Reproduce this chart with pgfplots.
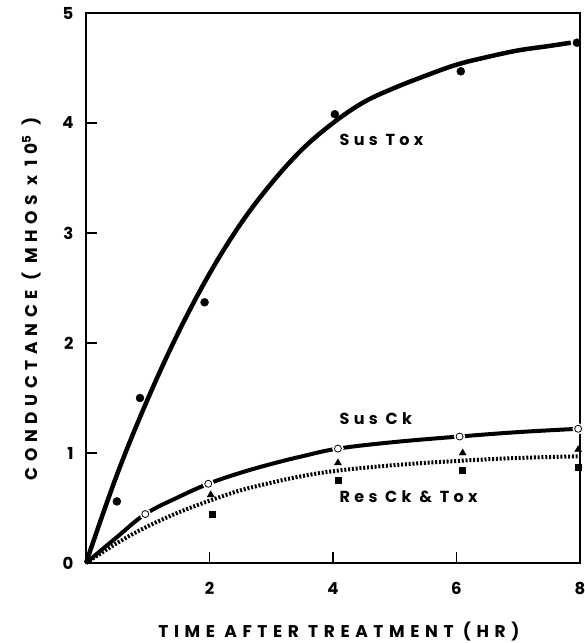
\documentclass[border=0pt]{standalone}
\usepackage{fontspec}
\setmainfont{Poppins}
\newfontfamily\spaced[LetterSpace=33]{Poppins}
\newfontfamily\lspaced[LetterSpace=27]{Poppins}
\usepackage{pgfplots}
\pgfplotsset{compat=1.18}
\begin{document}
\begin{tikzpicture}
\useasboundingbox (-86pt,-80pt) rectangle (499pt,563pt);
\begin{axis}[
  at={(0pt,0pt)}, anchor=south west,
  scale only axis, width=494pt, height=550pt,
  xmin=0, xmax=8, ymin=0, ymax=5,
  xtick={2,4,6,8}, ytick={0,1,2,3,4,5},
  tick pos=left, tick align=inside,
  major tick length=11pt,
  axis line style={line width=1.6pt},
  every tick/.style={black, line width=1.4pt},
  /pgf/number format/assume math mode=true,
  ticklabel style={font=\bfseries\fontsize{16.5}{16.5}\selectfont},
  yticklabel style={xshift=-9pt},
  xticklabel style={yshift=-16pt},
  clip=false,
]
% Sus Tox curve
\addplot[black, line width=4.5pt, smooth, tension=0.6] coordinates {
(0,0) (0.5,0.80) (1,1.49) (1.5,2.10) (2,2.63) (2.5,3.08) (3,3.45) (3.5,3.76) (4,4.00) (4.5,4.19) (5,4.32) (5.5,4.43) (6,4.53) (6.5,4.60) (7,4.66) (7.5,4.70) (7.85,4.73)};
% Sus Ck curve
\addplot[black, line width=4pt, smooth, tension=0.6] coordinates {
(0,0) (0.5,0.235) (0.96,0.445) (1.5,0.6) (1.98,0.72) (2.5,0.82) (3.0,0.9) (3.5,0.97) (4.08,1.04) (5,1.1) (6.05,1.15) (7,1.19) (7.97,1.22)};
% Res Ck & Tox dotted curve
\addplot[black, line width=4pt, dash pattern=on 2pt off 1.8pt, smooth, tension=0.6] coordinates {
(0,0) (0.5,0.18) (0.95,0.32) (1.5,0.46) (2.02,0.57) (2.5,0.66) (3.0,0.73) (3.5,0.79) (4.08,0.84) (5,0.89) (6.08,0.93) (7,0.955) (8,0.97)};
% gaps around open circles
\addplot[only marks, mark=*, mark size=5.5pt, white, mark options={draw=white, fill=white}] coordinates {
(0.96,0.445) (1.98,0.72) (4.08,1.04) (6.05,1.15) (7.97,1.22)};
% Sus Tox points
\addplot[only marks, mark=*, mark size=4pt, black] coordinates {
(0.50,0.56) (0.875,1.50) (1.92,2.37) (4.03,4.08) (6.07,4.47) (7.95,4.73)};
% Sus Ck points
\addplot[only marks, mark=*, mark size=3.5pt, black, mark options={fill=white, line width=0.8pt}] coordinates {
(0.96,0.445) (1.98,0.72) (4.08,1.04) (6.05,1.15) (7.97,1.22)};
% Res Ck triangles
\addplot[only marks, mark=triangle*, mark size=4pt, black] coordinates {
(2.02,0.62) (4.08,0.91) (6.1,1.0) (7.97,1.03)};
% Tox squares
\addplot[only marks, mark=square*, mark size=3pt, black] coordinates {
(2.04,0.44) (4.08,0.75) (6.09,0.84) (7.97,0.875)};
\node[font=\lspaced\bfseries\fontsize{16}{16}\selectfont, anchor=west] at (axis cs:4.05,3.85) {Sus Tox};
\node[font=\lspaced\bfseries\fontsize{16}{16}\selectfont, anchor=west] at (axis cs:4.05,1.31) {Sus Ck};
\node[font=\lspaced\bfseries\fontsize{16}{16}\selectfont, anchor=west] at (axis cs:4.05,0.60) {Res Ck \& Tox};
\node[font=\spaced\bfseries\fontsize{17}{17}\selectfont] at (rel axis cs:0.512,0) [yshift=-69pt] {TIME AFTER TREATMENT (HR)};
\node[font=\spaced\bfseries\fontsize{17}{17}\selectfont, rotate=90] at (rel axis cs:-0.111,0.48) {CONDUCTANCE ( MHOS x 10\textsuperscript{5} )};
\end{axis}
\end{tikzpicture}
\end{document}
